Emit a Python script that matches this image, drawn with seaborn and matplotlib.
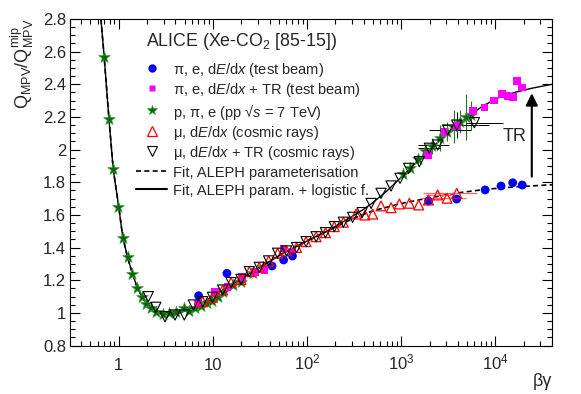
import numpy as np
import matplotlib
matplotlib.use("Agg")
import matplotlib.pyplot as plt
from matplotlib.lines import Line2D
from matplotlib.ticker import FixedLocator, FixedFormatter, MultipleLocator, LogLocator, NullFormatter
import seaborn as sns

sns.set_style("ticks")
plt.rcParams['font.family'] = ['Liberation Sans', 'DejaVu Sans']
plt.rcParams['mathtext.fontset'] = 'custom'
plt.rcParams['mathtext.rm'] = 'Liberation Sans'
plt.rcParams['mathtext.it'] = 'Liberation Sans:italic'

# --- data ---
# test beam, dE/dx (blue circles)
tb_x = [7.05, 14.1, 42.5, 56.4, 70, 1950, 3890, 7800, 11500, 15300, 19300]
tb_y = [1.105, 1.242, 1.287, 1.324, 1.348, 1.685, 1.697, 1.753, 1.777, 1.797, 1.783]

# test beam, dE/dx + TR (magenta squares)
tbtr_x = [6.98, 10.6, 14.3, 20.4, 28.2, 35.2, 56, 70, 1914, 2880, 3890, 5760, 7660,
          9620, 11700, 13500, 15300, 17000, 19100]
tbtr_y = [1.058, 1.128, 1.16, 1.218, 1.252, 1.262, 1.395, 1.375, 1.967, 2.106, 2.145,
          2.236, 2.257, 2.30, 2.339, 2.328, 2.324, 2.422, 2.38]

# pp collisions (green stars)
pp_x = [0.70, 0.787, 0.874, 0.99, 1.097, 1.24, 1.40, 1.56, 1.76, 1.94, 2.21, 2.48, 2.92,
        3.44, 4.05, 4.88, 5.6, 6.5, 7.47, 8.7, 9.9, 11.2, 12.7, 16.2, 19.9, 26.4, 33.7,
        1040, 1250, 1500, 1800, 2150, 2600, 3100, 3600, 4200, 4900, 5500]
pp_y = [2.57, 2.19, 1.88, 1.65, 1.46, 1.344, 1.236, 1.154, 1.099, 1.054, 1.028, 1.003, 0.993,
        1.001, 1.003, 1.028, 1.013, 1.03, 1.042, 1.06, 1.073, 1.10, 1.13, 1.17, 1.19, 1.242, 1.283,
        1.85, 1.89, 1.94, 1.99, 2.02, 2.07, 2.11, 2.14, 2.17, 2.20, 2.21]
pp_yerr = [0] * 27 + [0.02, 0.03, 0.03, 0.04, 0.05, 0.08, 0.06, 0.10, 0.07, 0.14, 0.09]

# cosmic rays, dE/dx (red open triangles)
cr_x = [7.8, 9.9, 12.7, 15.6, 19.9, 24.4, 31.1, 39.1, 48.7, 60.7, 77.5, 97.7, 125, 157,
        195, 243, 332, 413, 498, 611, 781, 957, 1222, 1535, 1950, 2443, 3076, 3890]
cr_y = [1.068, 1.095, 1.14, 1.185, 1.205, 1.252, 1.279, 1.318, 1.365, 1.379, 1.40, 1.436,
        1.466, 1.491, 1.528, 1.555, 1.605, 1.599, 1.605, 1.655, 1.644, 1.667, 1.671, 1.661,
        1.691, 1.722, 1.702, 1.732]
cr_xlo = [0] * 25 + [600, 1440, 2170]
cr_xhi = [0] * 25 + [900, 1820, 2440]

# cosmic rays, dE/dx + TR (black open triangles)
crtr_x = [2.06, 2.48, 3.10, 3.96, 4.97, 6.2, 7.8, 9.9, 12.7, 15.6, 19.9, 24.4, 31.1, 39.1,
          48.7, 60.7, 77.5, 97.7, 125, 157, 195, 243, 305, 385, 479, 611, 781, 973, 1202,
          1560, 1995, 2443, 3120, 3890, 5990]
crtr_y = [1.099, 1.034, 0.976, 0.987, 0.987, 1.048, 1.068, 1.095, 1.14, 1.185, 1.205, 1.252,
          1.279, 1.318, 1.365, 1.379, 1.40, 1.436, 1.466, 1.491, 1.528, 1.555, 1.585, 1.614,
          1.67, 1.732, 1.777, 1.824, 1.885, 1.926, 2.008, 2.028, 2.12, 2.15, 2.165]
crtr_xlo = [0] * 30 + [500, 950, 1160, 1170, 1090]
crtr_xhi = [0] * 30 + [600, 800, 2410, 4760, 6010]
crtr_yerr = [0] * 33 + [0.08, 0.0]

# fit: ALEPH param. + logistic function (solid)
fit_tr_x = [0.647, 0.70, 0.787, 0.874, 1.0, 1.1, 1.24, 1.4, 1.56, 1.76, 2.0, 2.3, 2.7, 3.2,
            4.0, 5.0, 6.0, 7.5, 10, 15, 20, 30, 50, 70, 100, 150, 200, 300, 400, 500, 700,
            1000, 1500, 2000, 3000, 5000, 7500, 11000, 16000, 24000, 40000]
fit_tr_y = [2.80, 2.57, 2.19, 1.88, 1.65, 1.47, 1.34, 1.24, 1.16, 1.10, 1.055, 1.02, 1.0, 0.99,
            0.995, 1.01, 1.03, 1.06, 1.10, 1.165, 1.21, 1.27, 1.35, 1.395, 1.44, 1.49, 1.53,
            1.59, 1.635, 1.675, 1.745, 1.83, 1.93, 2.0, 2.09, 2.20, 2.27, 2.32, 2.35, 2.375, 2.40]

# fit: ALEPH parameterisation only (dashed)
fit_x = [0.647, 0.70, 0.787, 0.874, 1.0, 1.1, 1.24, 1.4, 1.56, 1.76, 2.0, 2.3, 2.7, 3.2,
         4.0, 5.0, 6.0, 7.5, 10, 15, 20, 30, 50, 70, 100, 150, 200, 300, 500, 1000, 2000,
         4000, 8000, 15000, 40000]
fit_y = [2.80, 2.57, 2.19, 1.88, 1.65, 1.47, 1.34, 1.24, 1.16, 1.10, 1.055, 1.02, 1.0, 0.99,
         0.995, 1.01, 1.03, 1.06, 1.10, 1.165, 1.21, 1.27, 1.35, 1.395, 1.44, 1.49, 1.525,
         1.575, 1.625, 1.67, 1.705, 1.735, 1.757, 1.77, 1.785]

tick_x = [1, 10, 100, 1000, 10000]
tick_x_labels = ['1', '10', '$10^2$', '$10^3$', '$10^4$']

# --- figure ---
fig = plt.figure(figsize=(5.81, 3.94), dpi=100)
ax = fig.add_axes([69.5 / 581, 48.5 / 394, 482.5 / 581, 326.5 / 394])

sns.lineplot(x=fit_x, y=fit_y, ax=ax, color='black', lw=1.2, ls=(0, (3, 2)), sort=False, zorder=2)
sns.lineplot(x=fit_tr_x, y=fit_tr_y, ax=ax, color='black', lw=1.0, sort=False, zorder=2)

ax.errorbar(pp_x, pp_y, yerr=pp_yerr, fmt='none', ecolor='#1f7a1f', elinewidth=0.8, zorder=3)
ax.errorbar(cr_x, cr_y, xerr=[cr_xlo, cr_xhi], fmt='none', ecolor='#ff6666', elinewidth=0.9, zorder=3)
ax.errorbar(crtr_x, crtr_y, xerr=[crtr_xlo, crtr_xhi], yerr=crtr_yerr, fmt='none',
            ecolor='black', elinewidth=0.7, zorder=3)

sns.scatterplot(x=pp_x, y=pp_y, ax=ax, marker='*', s=78, color='#0a660a',
                edgecolor='#3c9c3c', linewidth=0.5, zorder=4)
sns.scatterplot(x=tbtr_x, y=tbtr_y, ax=ax, marker='s', s=30, color='#ff00ff',
                edgecolor='none', zorder=5)
sns.scatterplot(x=tb_x, y=tb_y, ax=ax, marker='o', s=40, color='#0000ff',
                edgecolor='none', zorder=5)
sns.scatterplot(x=cr_x, y=cr_y, ax=ax, marker='^', s=50, facecolors='none',
                edgecolor='#ff0000', linewidth=0.9, zorder=6)
sns.scatterplot(x=crtr_x, y=crtr_y, ax=ax, marker='v', s=54, facecolors='none',
                edgecolor='black', linewidth=0.8, zorder=6)

# TR arrow and label
ax.annotate('', xy=(24400, 2.345), xytext=(24400, 1.834),
            arrowprops=dict(arrowstyle='-|>', color='black', lw=1.5,
                            mutation_scale=18, shrinkA=0, shrinkB=0))
ax.text(15960, 2.079, 'TR', ha='center', va='center', fontsize=13)

# axes
ax.set_xscale('log')
ax.set_xlim(0.3, 40000)
ax.set_ylim(0.8, 2.8)
ax.xaxis.set_major_locator(FixedLocator(tick_x))
ax.xaxis.set_major_formatter(FixedFormatter(tick_x_labels))
ax.xaxis.set_minor_locator(LogLocator(base=10, subs=np.arange(2, 10), numticks=20))
ax.xaxis.set_minor_formatter(NullFormatter())
ax.yaxis.set_major_locator(MultipleLocator(0.2))
ax.yaxis.set_minor_locator(MultipleLocator(0.05))
ax.yaxis.set_major_formatter(matplotlib.ticker.FuncFormatter(lambda v, p: f'{v:g}'))

ax.tick_params(which='both', direction='in', top=True, right=True, width=0.8, color='black')
ax.tick_params(which='major', length=7.2)
ax.tick_params(which='minor', length=3.6)
ax.tick_params(axis='y', labelsize=12, pad=2.5)
ax.tick_params(axis='x', labelsize=12, pad=17.5)
for t in ax.xaxis.get_major_ticks():
    t.label1.set_va('baseline')
for sp in ax.spines.values():
    sp.set_linewidth(0.8)
    sp.set_color('black')

ax.set_ylabel(r'Q$_{\mathregular{MPV}}$/Q$_{\mathregular{MPV}}^{\mathregular{mip}}$',
              fontsize=13, loc='top')
ax.yaxis.set_label_coords(-0.069, 1.0)
ax.set_xlabel('βγ', fontsize=13, loc='right')
ax.xaxis.set_label_coords(1.0, -0.084)
ax.xaxis.label.set_va('top')

# legend
ax.text(0.1585, 0.9296, r'ALICE (Xe-CO$_2$ [85-15])', transform=ax.transAxes,
        ha='left', va='center', fontsize=12.8)
handles = [
    Line2D([], [], ls='none', marker='o', ms=6, color='#0000ff', mec='none'),
    Line2D([], [], ls='none', marker='s', ms=5, color='#ff00ff', mec='none'),
    Line2D([], [], ls='none', marker='*', ms=7, color='#0a660a', mec='#3c9c3c', mew=0.5),
    Line2D([], [], ls='none', marker='^', ms=7, mfc='none', mec='#ff0000', mew=0.9),
    Line2D([], [], ls='none', marker='v', ms=7, mfc='none', mec='black', mew=0.8),
    Line2D([], [], color='black', lw=1.2, ls=(0, (3, 2))),
    Line2D([], [], color='black', lw=1.5),
]
labels = [
    r'π, e, d$\mathit{E}$/d$\mathit{x}$ (test beam)',
    r'π, e, d$\mathit{E}$/d$\mathit{x}$ + TR (test beam)',
    r'p, π, e (pp √$\mathit{s}$ = 7 TeV)',
    r'μ, d$\mathit{E}$/d$\mathit{x}$ (cosmic rays)',
    r'μ, d$\mathit{E}$/d$\mathit{x}$ + TR (cosmic rays)',
    'Fit, ALEPH parameterisation',
    'Fit, ALEPH param. + logistic f.',
]
ax.legend(handles, labels, loc='upper left', bbox_to_anchor=(0.138, 0.871),
          frameon=False, fontsize=10.5, handlelength=2.12, handletextpad=0.4,
          handleheight=1.25, labelspacing=0.16, borderpad=0, borderaxespad=0)

fig.savefig('out.png', dpi=100)
